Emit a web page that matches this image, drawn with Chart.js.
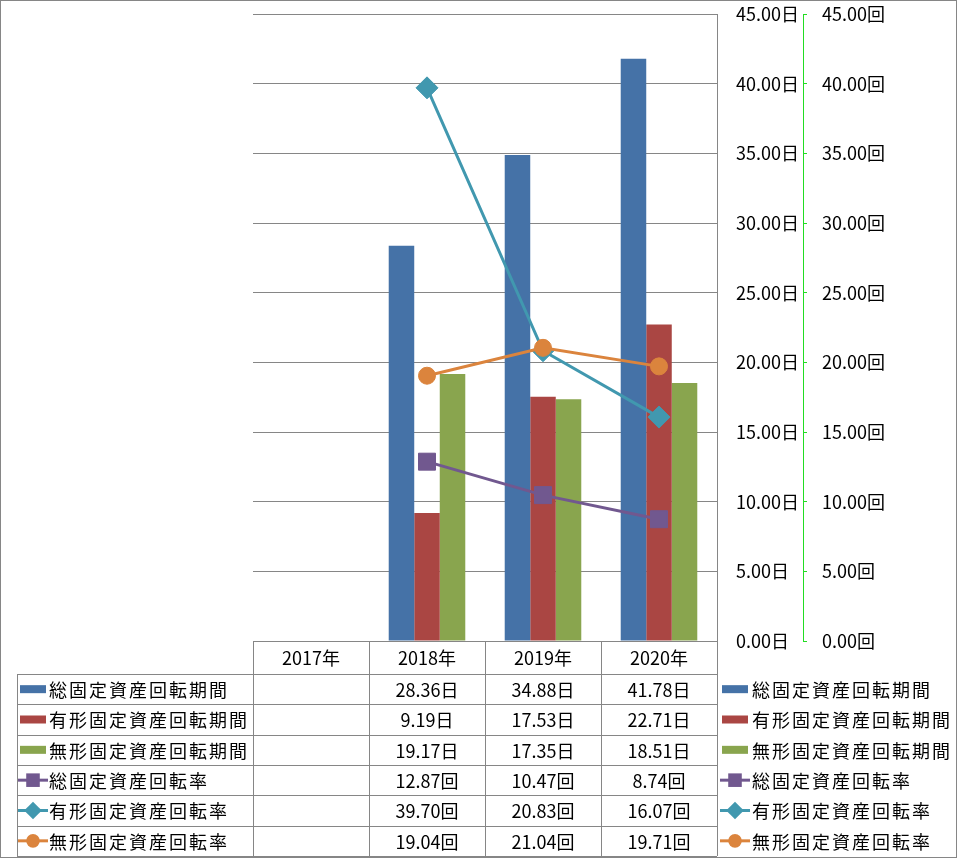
<!DOCTYPE html>
<html>
<head>
<meta charset="utf-8">
<script src="https://cdn.jsdelivr.net/npm/chart.js@4/dist/chart.umd.min.js"></script>
<style>
  html, body { margin: 0; padding: 0; background: #fff; }
  #wrap { width: 957px; height: 858px; }
</style>
</head>
<body>
<div id="wrap"><canvas id="chart" width="957" height="858"></canvas></div>
<script>
const years = ["2017年", "2018年", "2019年", "2020年"];

// 回転期間 (日)
const totalPeriod = [null, 28.36, 34.88, 41.78];
const tangiblePeriod = [null, 9.19, 17.53, 22.71];
const intangiblePeriod = [null, 19.17, 17.35, 18.51];

// 回転率 (回)
const totalRate = [null, 12.87, 10.47, 8.74];
const tangibleRate = [null, 39.70, 20.83, 16.07];
const intangibleRate = [null, 19.04, 21.04, 19.71];

const axisTicks = [0, 5, 10, 15, 20, 25, 30, 35, 40, 45];

const FONT = '"Noto Sans CJK JP", "Noto Sans", sans-serif';
const FS = 18;
const GRID = "#868686";

const rows = [
  { label: "総固定資産回転期間", data: totalPeriod, unit: "日", color: "#4572A7", kind: "bar" },
  { label: "有形固定資産回転期間", data: tangiblePeriod, unit: "日", color: "#AA4643", kind: "bar" },
  { label: "無形固定資産回転期間", data: intangiblePeriod, unit: "日", color: "#89A54E", kind: "bar" },
  { label: "総固定資産回転率", data: totalRate, unit: "回", color: "#71588F", kind: "line", point: "rect", r: 12 },
  { label: "有形固定資産回転率", data: tangibleRate, unit: "回", color: "#4198AF", kind: "line", point: "rectRot", r: 11 },
  { label: "無形固定資産回転率", data: intangibleRate, unit: "回", color: "#DB843D", kind: "line", point: "circle", r: 8.5 },
];

function buildDatasets() {
  return rows.map((r, i) => {
    if (r.kind === "bar") {
      return {
        type: "bar",
        label: r.label,
        data: r.data,
        backgroundColor: r.color,
        yAxisID: "y",
        order: 10,
        categoryPercentage: 0.66,
        barPercentage: 1,
      };
    }
    return {
      type: "line",
      label: r.label,
      data: r.data,
      borderColor: r.color,
      backgroundColor: r.color,
      borderWidth: 3,
      pointStyle: r.point,
      pointRadius: r.r,
      pointBorderWidth: 1,
      yAxisID: "y1",
      order: 10 - i,
    };
  });
}

function drawKey(ctx, r, x, y) {
  ctx.save();
  if (r.kind === "bar") {
    ctx.fillStyle = r.color;
    ctx.fillRect(x, y - 4, 26, 8);
  } else {
    ctx.strokeStyle = r.color;
    ctx.lineWidth = 3;
    ctx.beginPath();
    ctx.moveTo(x - 2, y);
    ctx.lineTo(x + 28, y);
    ctx.stroke();
    ctx.fillStyle = r.color;
    Chart.helpers.drawPoint(ctx, { pointStyle: r.point, radius: r.r * 0.8, rotation: 0, borderWidth: 0 }, x + 13, y);
  }
  ctx.restore();
}

const tablePlugin = {
  id: "dataTable",
  afterDraw(chart) {
    const ctx = chart.ctx;
    const xs = chart.scales.x;
    const area = chart.chartArea;
    const half = (xs.getPixelForValue(1) - xs.getPixelForValue(0)) / 2;
    const top = xs.bottom;
    const rowH = (chart.height - 2 - top) / rows.length;
    const tableLeft = 17;

    ctx.save();
    ctx.strokeStyle = GRID;
    ctx.lineWidth = 1;
    ctx.beginPath();
    for (let i = 0; i <= rows.length; i++) {
      const y = Math.round(top + i * rowH) + 0.5;
      ctx.moveTo(tableLeft, y);
      ctx.lineTo(area.right, y);
    }
    const vx = [tableLeft];
    for (let j = 0; j < years.length; j++) vx.push(xs.getPixelForValue(j) - half);
    vx.push(area.right);
    vx.forEach((x) => {
      ctx.moveTo(Math.round(x) + 0.5, top);
      ctx.lineTo(Math.round(x) + 0.5, top + rows.length * rowH);
    });
    ctx.stroke();

    ctx.font = FS + "px " + FONT;
    ctx.textBaseline = "middle";
    rows.forEach((r, i) => {
      const cy = top + (i + 0.5) * rowH;
      drawKey(ctx, r, 20, cy);
      ctx.fillStyle = "#000";
      ctx.textAlign = "left";
      ctx.letterSpacing = "2px";
      ctx.fillText(r.label, 49, cy + 1);
      ctx.letterSpacing = "0px";
      ctx.textAlign = "center";
      r.data.forEach((v, j) => {
        if (v === null) return;
        ctx.fillText(v.toFixed(2) + r.unit, xs.getPixelForValue(j), cy + 1);
      });
      // right-hand legend
      drawKey(ctx, r, 722, cy);
      ctx.fillStyle = "#000";
      ctx.textAlign = "left";
      ctx.letterSpacing = "2px";
      ctx.fillText(r.label, 752, cy + 1);
      ctx.letterSpacing = "0px";
    });

    // outer frame
    ctx.strokeStyle = GRID;
    ctx.strokeRect(0.5, 0.5, chart.width - 1, chart.height - 1);
    ctx.restore();
  },
};

function fitRight(width) {
  return (scale) => {
    scale.width = width;
    scale.paddingTop = 0;
    scale.paddingBottom = 0;
  };
}

new Chart(document.getElementById("chart"), {
  data: { labels: years, datasets: buildDatasets() },
  options: {
    responsive: false,
    animation: false,
    layout: { padding: { left: 253, right: 64, top: 14, bottom: 184 } },
    plugins: {
      legend: { display: false },
      tooltip: { enabled: false },
    },
    scales: {
      x: {
        offset: true,
        grid: { offset: true, drawOnChartArea: false, tickLength: 33, color: GRID },
        border: { color: GRID },
        ticks: { color: "#000", font: { family: FONT, size: FS }, padding: -27, maxRotation: 0 },
        afterFit(scale) { scale.height = 33; },
      },
      y: {
        position: "right",
        weight: 0,
        min: 0,
        max: 45,
        afterBuildTicks(scale) { scale.ticks = axisTicks.map((v) => ({ value: v })); },
        grid: { color: GRID, drawTicks: false },
        border: { color: GRID },
        ticks: {
          color: "#000",
          font: { family: FONT, size: FS },
          padding: 19,
          callback: (v) => v.toFixed(2) + "日",
        },
        afterFit: fitRight(86),
      },
      y1: {
        position: "right",
        weight: 1,
        min: 0,
        max: 45,
        afterBuildTicks(scale) { scale.ticks = axisTicks.map((v) => ({ value: v })); },
        grid: { drawOnChartArea: false, tickLength: 4, color: "#22dd22" },
        border: { color: "#22dd22", dash: [5, 3] },
        ticks: {
          color: "#000",
          font: { family: FONT, size: FS },
          padding: 15,
          callback: (v) => v.toFixed(2) + "回",
        },
        afterFit: fitRight(90),
      },
    },
  },
  plugins: [tablePlugin],
});
</script>
</body>
</html>
